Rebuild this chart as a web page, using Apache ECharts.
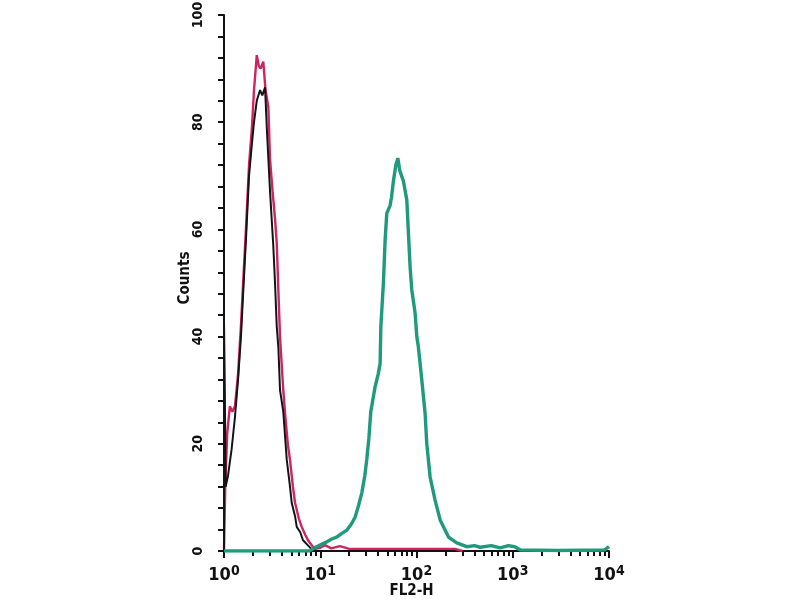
<!DOCTYPE html>
<html>
<head>
<meta charset="utf-8">
<script src="https://cdn.jsdelivr.net/npm/echarts@6/dist/echarts.min.js"></script>
<style>html,body{margin:0;padding:0;background:#fff;}#c{width:800px;height:600px;}</style>
</head>
<body>
<div id="c"></div>
<script>
// FL2-H channel positions and counts
var xMajorTicks = [1, 10, 100, 1000, 10000];
var xMinorTicks = [2,3,4,5,6,7,8,9,20,30,40,50,60,70,80,90,200,300,400,500,600,700,800,900,2000,3000,4000,5000,6000,7000,8000,9000];
var yTicks = [0, 20, 40, 60, 80, 100];

var isotypeX = [1.0, 1.03, 1.08, 1.15, 1.22, 1.3, 1.4, 1.5, 1.58, 1.69, 1.82, 1.95, 2.05, 2.19, 2.3, 2.4, 2.56, 2.7, 2.89, 3.01, 3.2, 3.39, 3.53, 3.67, 3.82, 4.0, 4.13, 4.31, 4.6, 4.85, 5.2, 5.47, 6.0, 6.42, 7.0, 7.47, 8.2, 8.83, 10, 11.2, 13, 16, 20, 30, 60, 120, 250, 300];
var isotypeY = [0, 12, 22, 27, 26, 27, 33, 42, 50, 60, 72, 79, 86, 92.5, 90.5, 90, 91.3, 86, 82.8, 73, 67, 62, 57.5, 48.7, 40, 34, 30, 25.7, 20, 17, 12, 9, 6, 4.5, 3, 2, 1, 0.4, 0.6, 1.1, 0.5, 0.9, 0.4, 0.4, 0.4, 0.4, 0.4, 0];

var controlX = [1.0, 1.0, 1.02, 1.04, 1.1, 1.2, 1.3, 1.4, 1.5, 1.58, 1.69, 1.82, 1.95, 2.05, 2.19, 2.37, 2.5, 2.67, 2.8, 3.01, 3.25, 3.39, 3.53, 3.67, 3.82, 4.13, 4.49, 4.85, 5.05, 5.47, 5.7, 6.2, 6.62, 7.5, 8.16, 9.0];
var controlY = [0, 43, 30, 12, 14, 19, 25, 32, 40, 48, 58, 70, 76, 80, 84, 86, 85, 86.5, 78, 67, 57, 50, 42, 38, 30, 26, 17, 12, 9, 6.5, 4.5, 3.5, 2, 1, 0.3, 0];

var stainedX = [1, 7.8, 8.5, 9.95, 11.7, 13, 14.8, 16.5, 18.9, 21, 23, 25, 27, 29, 30.4, 32, 33.5, 37.1, 40, 41.9, 42.6, 45.3, 47.2, 49.1, 53.2, 55, 57.5, 61, 64, 67, 73.1, 79.3, 85.8, 89.3, 96.7, 100.7, 104.7, 113.5, 122.8, 127.9, 138.5, 156, 176, 215, 262, 333, 400, 458, 600, 740, 900, 1050, 1200, 3000, 9000, 10000];
var stainedY = [0, 0, 0.5, 1.1, 1.7, 2.2, 2.6, 3.2, 3.9, 5, 6.3, 8.5, 10.8, 14, 17, 21, 26, 30.6, 33, 35, 41.8, 50, 58, 63, 64.5, 66, 69, 72, 73.3, 71, 69, 65.5, 53, 48.7, 44.4, 40, 38, 31.9, 25.7, 20, 13.8, 9.5, 5.8, 2.6, 1.5, 0.8, 1, 0.7, 1, 0.6, 1, 0.8, 0.2, 0.1, 0.2, 0.8];

function pairs(xs, ys) { return xs.map(function (x, i) { return [x, ys[i]]; }); }

var condensed = "'DejaVu Sans Condensed', 'Liberation Sans Narrow', 'Arial Narrow', 'Liberation Sans', sans-serif";
var gridRect = { left: 224, right: 191, top: 15, bottom: 49, containLabel: false, outerBoundsMode: 'none' };
var chart = echarts.init(document.getElementById('c'), null, { renderer: 'canvas' });
chart.setOption({
  backgroundColor: '#ffffff',
  animation: false,
  grid: [Object.assign({}, gridRect), Object.assign({}, gridRect)],
  xAxis: [{
    type: 'log', logBase: 10, min: 1, max: 10000, gridIndex: 0,
    name: 'FL2-H', nameLocation: 'middle', nameGap: 33, nameMoveOverlap: false,
    nameTextStyle: { fontFamily: condensed, fontWeight: 'bold', fontSize: 15, color: '#111', padding: [0, 10, 0, 0] },
    axisLine: { show: true, lineStyle: { color: '#111', width: 2 } },
    axisTick: { show: true, inside: false, length: 7, customValues: xMajorTicks, lineStyle: { color: '#111', width: 2 } },
    splitLine: { show: false },
    axisLabel: {
      customValues: xMajorTicks,
      margin: 13,
      formatter: function (v) { return '{b|10}{s|' + Math.round(Math.log10(v)) + '}'; },
      rich: {
        b: { fontFamily: condensed, fontSize: 18, fontWeight: 'bold', color: '#111', verticalAlign: 'bottom', lineHeight: 20 },
        s: { fontFamily: condensed, fontSize: 14, fontWeight: 'bold', color: '#111', verticalAlign: 'top', lineHeight: 20, padding: [0, 0, 8, 0] }
      }
    }
  }, {
    type: 'log', logBase: 10, min: 1, max: 10000, gridIndex: 1,
    axisLine: { show: false },
    axisTick: { show: true, inside: false, length: 5, customValues: xMinorTicks, lineStyle: { color: '#111', width: 2 } },
    axisLabel: { show: false },
    splitLine: { show: false }
  }],
  yAxis: [{
    type: 'value', min: 0, max: 100, interval: 20, gridIndex: 0,
    name: 'Counts', nameLocation: 'middle', nameGap: 31, nameRotate: 90, nameMoveOverlap: false,
    nameTextStyle: { fontFamily: condensed, fontWeight: 'bold', fontSize: 15, color: '#111', padding: [0, 0, 0, 10] },
    axisLine: { show: true, lineStyle: { color: '#111', width: 2 } },
    axisTick: { show: true, inside: false, length: 6, lineStyle: { color: '#111', width: 2 } },
    minorTick: { show: true, splitNumber: 5, length: 6, lineStyle: { color: '#111', width: 2 } },
    splitLine: { show: false },
    axisLabel: { rotate: 90, margin: 19, fontFamily: condensed, fontWeight: 'bold', fontSize: 14, color: '#111' }
  }, {
    type: 'value', min: 0, max: 100, gridIndex: 1, show: false
  }],
  series: [{
    name: 'Isotype', type: 'line', xAxisIndex: 0, yAxisIndex: 0,
    data: pairs(isotypeX, isotypeY), showSymbol: false, symbol: 'none',
    lineStyle: { color: '#cf2462', width: 2.4 }, z: 2
  }, {
    name: 'Control', type: 'line', xAxisIndex: 0, yAxisIndex: 0,
    data: pairs(controlX, controlY), showSymbol: false, symbol: 'none',
    lineStyle: { color: '#141414', width: 2 }, z: 3
  }, {
    name: 'Stained', type: 'line', xAxisIndex: 0, yAxisIndex: 0,
    data: pairs(stainedX, stainedY), showSymbol: false, symbol: 'none',
    lineStyle: { color: '#1f9a7c', width: 3.4 }, z: 4
  }]
});
</script>
</body>
</html>
